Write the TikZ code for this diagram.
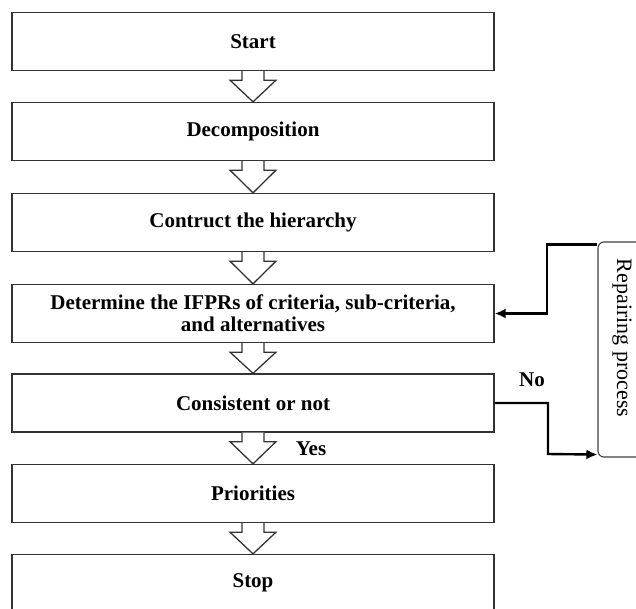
\documentclass[tikz,border=0pt]{standalone}
\usepackage{fontspec}
\setmainfont{Liberation Serif}
\usetikzlibrary{calc,arrows.meta}
\begin{document}
\begin{tikzpicture}[x=1pt,y=-1pt,
  stepbox/.style={draw=black!80,line width=1.3pt,fill=white,minimum width=482pt,minimum height=58pt,inner sep=0pt,font=\fontsize{21}{22}\selectfont\bfseries,align=center},
  flow/.style={draw=black,line width=2.4pt,-{Latex[length=11pt,width=10pt]}},
  hollow/.style={draw=black!80,line width=1.3pt,fill=white,line join=miter},
  lab/.style={font=\fontsize{21}{22}\selectfont\bfseries,inner sep=0pt}]
\useasboundingbox (0,0) rectangle (636,608);
\clip (0,0) rectangle (636,608);
\node[stepbox] (start) at (253,41.5) {Start};
\node[stepbox] (dec) at (253,131.5) {Decomposition};
\node[stepbox] (hier) at (253,222.5) {Contruct the hierarchy};
\node[stepbox] (ifpr) at (253,313.5) {Determine the IFPRs of criteria, sub-criteria,\\and alternatives};
\node[stepbox] (cons) at (253,403) {Consistent or not};
\node[stepbox] (prio) at (253,493.5) {Priorities};
\node[stepbox,minimum height=56pt] (stop) at (253,582.5) {Stop};
\node[draw=black!75,line width=1.1pt,rounded corners=6pt,minimum width=54pt,minimum height=215pt,inner sep=0pt] (rep) at (625,349.5) {};
\node[rotate=-90,font=\fontsize{22}{22}\selectfont,inner sep=0pt] (reptext) at (622,338) {Repairing process};
\foreach \a/\b in {start/dec,dec/hier,hier/ifpr,ifpr/cons,cons/prio,prio/stop}{
  \draw[hollow] ($(\a.south)+(-11,0)$) -- ++(0,9) -- ++(-12,0) -- ($(\b.north)$) -- ($(\a.south)+(23,9)$) -- ++(-12,0) -- ($(\a.south)+(11,0)$);
}
\coordinate (fbstart) at ($(rep.north west)+(0,3)$);
\coordinate (noend) at ($(rep.south west)+(0,-3)$);
\draw[flow] (fbstart) -| (547,313.5) -- (ifpr.east);
\draw[flow] (cons.east) -| (548,454) -- (noend);
\node[lab] (no) at (532,380) {No};
\node[lab] (yes) at (311,449) {Yes};
\end{tikzpicture}
\end{document}
